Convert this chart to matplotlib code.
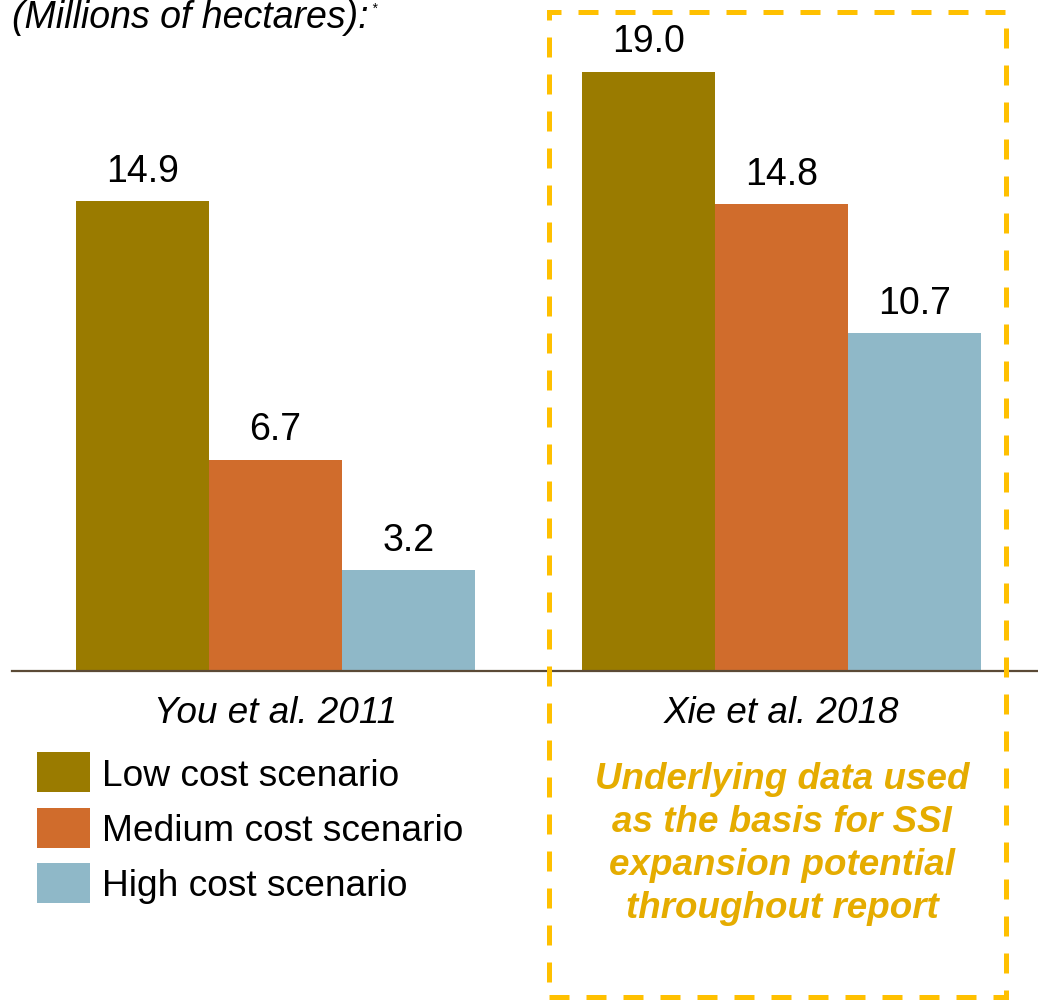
import numpy as np
import matplotlib.pyplot as plt
from matplotlib.patches import Rectangle

plt.rcParams['font.family'] = ['Liberation Sans', 'DejaVu Sans']

studies = ['You et al. 2011', 'Xie et al. 2018']
scenarios = ['Low cost scenario', 'Medium cost scenario', 'High cost scenario']
low_cost = [14.9, 19.0]
medium_cost = [6.7, 14.8]
high_cost = [3.2, 10.7]

colors = ['#9A7B00', '#D06C2C', '#8FB8C8']
note_color = '#E5AC00'
box_color = '#FFC000'

fig = plt.figure(figsize=(10.38, 10), dpi=100)
ax = fig.add_axes([0.0116, 0.329, 0.9884, 0.6626])

x = np.arange(len(studies))
w = 0.263
for i, (vals, c) in enumerate(zip([low_cost, medium_cost, high_cost], colors)):
    bars = ax.bar(x + (i - 1) * w, vals, w, color=c, linewidth=0)
    ax.bar_label(bars, labels=[f'{v:.1f}' for v in vals], padding=8, fontsize=27)

ax.set_xlim(-0.521, 1.507)
ax.set_ylim(0, 21)
for s in ['top', 'left', 'right']:
    ax.spines[s].set_visible(False)
ax.spines['bottom'].set_color('#5B4A36')
ax.spines['bottom'].set_linewidth(1.6)
ax.set_yticks([])
ax.set_xticks(x)
ax.set_xticklabels(studies, fontsize=26.5, style='italic')
ax.tick_params(axis='x', length=0, pad=18)

# unit note, clipped by the top edge
fig.text(0.0116, 0.972, '(Millions of hectares):', fontsize=27, style='italic',
         va='baseline', ha='left')
fig.text(371 / 1038, 0.987, '*', fontsize=10, style='italic', va='baseline')

# legend swatches
for k, (lab, c) in enumerate(zip(scenarios, colors)):
    top = 752 + k * 55.5
    fig.add_artist(Rectangle((37 / 1038, 1 - (top + 40) / 1000), 53 / 1038, 40 / 1000,
                             transform=fig.transFigure, color=c, lw=0))
    fig.text(102 / 1038, 1 - (top + 24) / 1000, lab, fontsize=26.7, va='center', ha='left')

# dashed highlight box around the second study
fig.add_artist(Rectangle((549 / 1038, 1 - 997 / 1000), (1006 - 549) / 1038, (997 - 12) / 1000,
                         transform=fig.transFigure, fill=False, edgecolor=box_color,
                         linewidth=3.6, linestyle=(0, (4, 3.4))))
fig.text(782 / 1038, 1 - 844 / 1000,
         'Underlying data used\nas the basis for SSI\nexpansion potential\nthroughout report',
         fontsize=26.5, weight='bold', style='italic', color=note_color,
         ha='center', va='center', linespacing=1.3)

fig.savefig('out.png', dpi=100)
